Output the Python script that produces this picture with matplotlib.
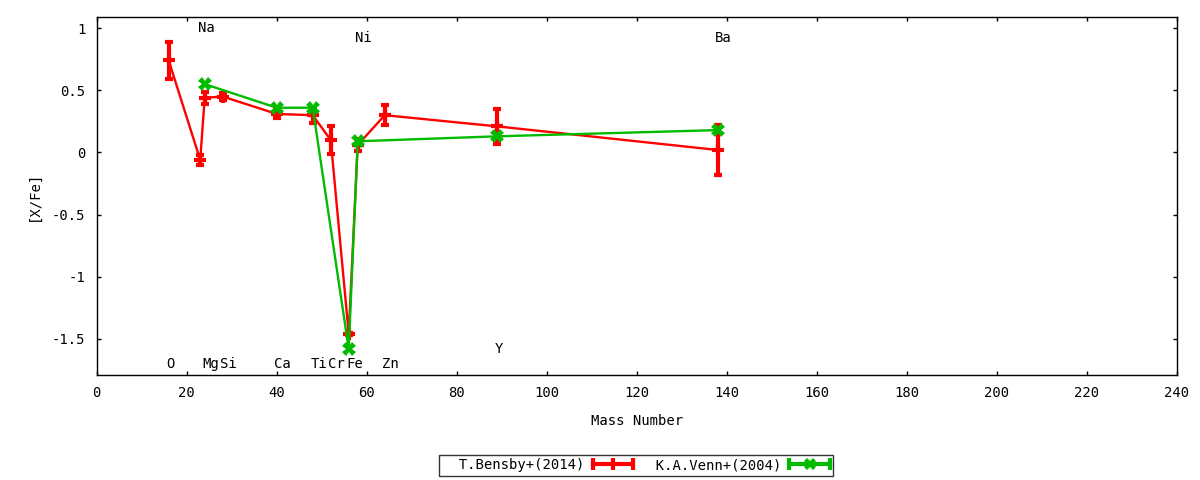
import matplotlib
matplotlib.use("Agg")
import matplotlib.pyplot as plt
from matplotlib.lines import Line2D
from matplotlib.legend_handler import HandlerBase

# ---- data ----
elements = ["O", "Na", "Mg", "Si", "Ca", "Ti", "Cr", "Fe", "Ni", "Zn", "Y", "Ba"]
mass = [16, 23, 24, 28, 40, 48, 52, 56, 58, 64, 89, 138]
label_y = [-1.70, 1.00, -1.70, -1.70, -1.70, -1.70, -1.70, -1.70, 0.92, -1.70, -1.58, 0.92]

bensby_x = [16, 23, 24, 28, 40, 48, 52, 56, 58, 64, 89, 138]
bensby_y = [0.74, -0.06, 0.44, 0.45, 0.31, 0.30, 0.10, -1.46, 0.06, 0.30, 0.21, 0.02]
bensby_err = [0.15, 0.04, 0.05, 0.03, 0.03, 0.06, 0.11, 0.01, 0.05, 0.08, 0.14, 0.20]

venn_x = [24, 40, 48, 56, 58, 89, 138]
venn_y = [0.55, 0.36, 0.36, -1.58, 0.09, 0.13, 0.18]
venn_err = [0, 0, 0, 0, 0, 0, 0]

legend_labels = ["T.Bensby+(2014)", "K.A.Venn+(2004)"]

RED = "#ff0000"
GREEN = "#00bb00"
FONT = "DejaVu Sans Mono"
plt.rcParams["font.family"] = [FONT]
plt.rcParams["font.size"] = 10

fig = plt.figure(figsize=(12, 4.8), dpi=100)
ax = fig.add_axes([0.0806, 0.2188, 0.9, 0.7458])

ax.errorbar(bensby_x, bensby_y, yerr=bensby_err, color=RED, lw=1.7,
            elinewidth=3, capsize=3, capthick=3, marker="+", ms=9, mew=3)
ax.errorbar(venn_x, venn_y, yerr=venn_err, color=GREEN, lw=1.7,
            elinewidth=3, capsize=0, marker="X", ms=10, mew=0)

for el, mx, ly in zip(elements, mass, label_y):
    ax.annotate(el, (mx, ly), xytext=(-2.5, 0), textcoords="offset pixels",
                ha="left", va="center", fontsize=10)

ax.set_xlim(0, 240)
ax.set_ylim(-1.79, 1.09)
ax.set_xticks(range(0, 241, 20))
ax.set_yticks([-1.5, -1, -0.5, 0, 0.5, 1])
ax.set_yticklabels(["-1.5", "-1", "-0.5", "0", "0.5", "1"])
ax.tick_params(direction="in", length=3, width=1, top=True, right=True,
               labelsize=10, pad=8)
for s in ax.spines.values():
    s.set_linewidth(1)
ax.set_xlabel("Mass Number", fontsize=10, labelpad=10)
ax.set_ylabel("[X/Fe]", fontsize=10, labelpad=8)


class ErrSample(HandlerBase):
    def __init__(self, color, center):
        super().__init__()
        self.color = color
        self.center = center

    def create_artists(self, legend, orig_handle, xdescent, ydescent,
                       width, height, fontsize, trans):
        y = height / 2 - ydescent
        x0, x1 = -xdescent, width - xdescent
        arts = [Line2D([x0, x1], [y, y], color=self.color, lw=3)]
        arts.append(Line2D([x0, x1], [y, y], ls="none", marker="|",
                           ms=8, mew=3, color=self.color))
        arts.append(Line2D([(x0 + x1) / 2], [y], ls="none", marker=self.center,
                           ms=9, mew=3 if self.center == "|" else 0,
                           color=self.color))
        for a in arts:
            a.set_transform(trans)
        return arts


h1 = Line2D([], [], color=RED)
h2 = Line2D([], [], color=GREEN)
leg = fig.legend([h1, h2], ["  " + s for s in legend_labels],
                 handler_map={h1: ErrSample(RED, "|"), h2: ErrSample(GREEN, "X")},
                 loc="center", bbox_to_anchor=(0.53, 0.031), ncol=2,
                 markerfirst=False, handlelength=2.9, fontsize=10,
                 frameon=True, fancybox=False, borderpad=0.25,
                 columnspacing=0.4, handletextpad=0.6)
leg.get_frame().set_edgecolor("black")
leg.get_frame().set_linewidth(1)

fig.savefig("out.png", dpi=100)
